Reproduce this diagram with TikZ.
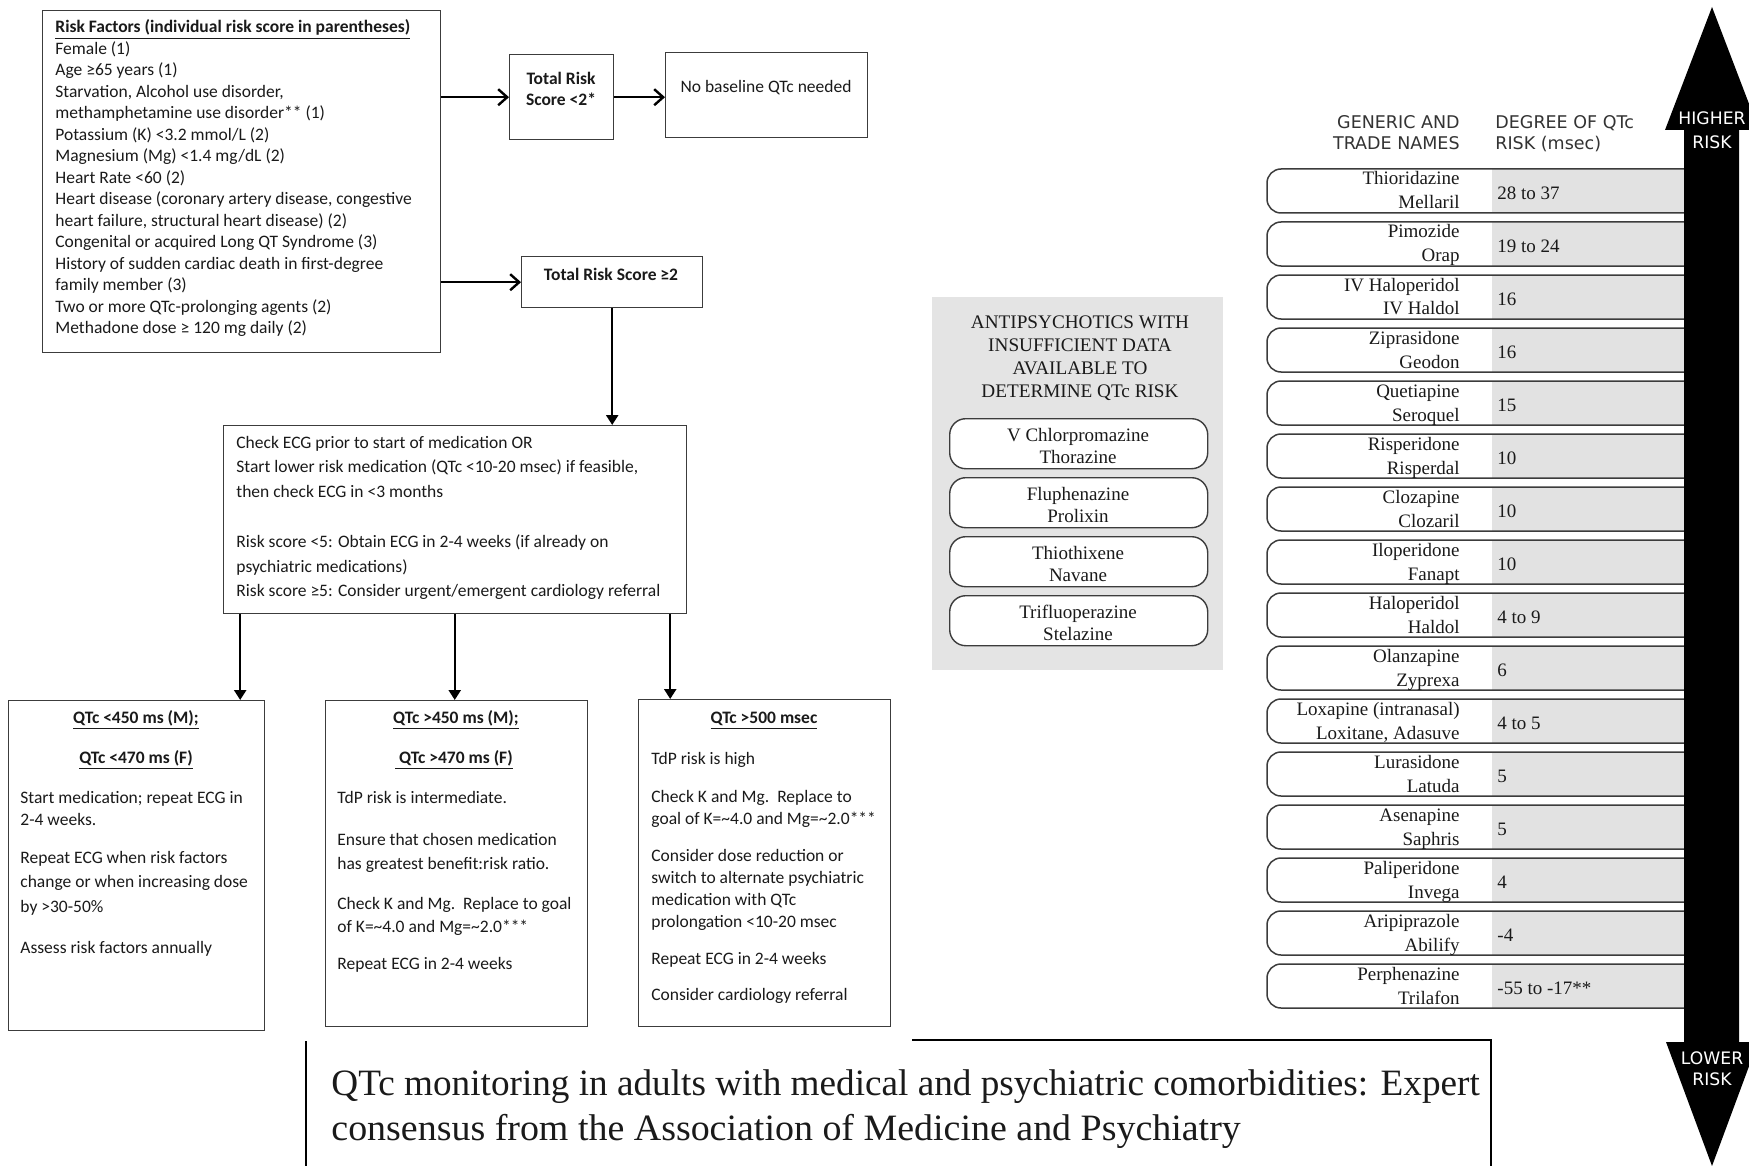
\documentclass[tikz,border=0pt]{standalone}
\usepackage{fontspec}
\setmainfont{Carlito}
\newfontfamily\serifF{Liberation Serif}
\newfontfamily\dvF{DejaVu Sans}
\usetikzlibrary{arrows.meta,calc}
\definecolor{bordc}{HTML}{3C3C3C}
\definecolor{txtc}{HTML}{1A1A1A}
\definecolor{panelc}{HTML}{E4E4E4}
\definecolor{rowc}{HTML}{E2E2E2}
\tikzset{
  flowbox/.style={draw=bordc, line width=0.7pt, inner sep=0pt, anchor=north west},
  ftxt/.style={inner sep=0pt, text=txtc},
  harrow/.style={line width=1.2pt, -{Straight Barb[length=4.5pt,width=8pt]}},
  varrow/.style={line width=1.2pt, -{Triangle[length=5pt,width=6pt]}},
  panel/.style={fill=panelc, inner sep=0pt, anchor=north west},
  apbox/.style={draw=bordc, fill=white, line width=0.7pt, rounded corners=8pt, inner sep=0pt, anchor=north west, minimum width=129pt, minimum height=25pt},
  sertxt/.style={inner sep=0pt, text=txtc, font=\serifF\fontsize{9.5pt}{11pt}\selectfont},
  rowline/.style={draw=bordc, line width=0.75pt, rounded corners=7pt},
  hdr/.style={inner sep=0pt, text=black!80, font=\dvF\fontsize{8.75pt}{10.5pt}\selectfont},
  risklbl/.style={inner sep=0pt, text=white, font=\dvF\fontsize{8.6pt}{10.5pt}\selectfont, anchor=base}
}
\begin{document}
\begin{tikzpicture}[x=0.5pt,y=-0.5pt]
\useasboundingbox (0,0) rectangle (1749,1166);
\clip (0,0) rectangle (1749,1166);
\fill[white] (0,0) rectangle (1749,1166);

% ---------- flowchart boxes ----------
\node[flowbox, minimum width=199pt, minimum height=171pt] (risk) at (42,10) {};
\node[flowbox, minimum width=52pt, minimum height=42.5pt] (lt) at (509,54) {};
\node[flowbox, minimum width=101pt, minimum height=42.5pt] (nb) at (665,52) {};
\node[flowbox, minimum width=90.5pt, minimum height=25.5pt] (ge) at (521,256) {};
\node[flowbox, minimum width=231.5pt, minimum height=94pt] (ecg) at (223,425) {};
\node[flowbox, minimum width=128pt, minimum height=165pt] (ba) at (8,700) {};
\node[flowbox, minimum width=131pt, minimum height=163pt] (bb) at (325,700) {};
\node[flowbox, minimum width=126pt, minimum height=163.5pt] (bc) at (638,699) {};

% ---------- flowchart texts ----------
\node[ftxt, anchor=base west, font=\fontsize{8.75pt}{10.75pt}\selectfont] (riskT) at (55,33) {\parbox[t]{230pt}{\raggedright
\underline{\textbf{Risk Factors (individual risk score in parentheses)}}\\
Female (1)\\
Age ≥65 years (1)\\
Starvation, Alcohol use disorder,\\
methamphetamine use disorder** (1)\\
Potassium (K) <3.2 mmol/L (2)\\
Magnesium (Mg) <1.4 mg/dL (2)\\
Heart Rate <60 (2)\\
Heart disease (coronary artery disease, congestive\\
heart failure, structural heart disease) (2)\\
Congenital or acquired Long QT Syndrome (3)\\
History of sudden cardiac death in first-degree\\
family member (3)\\
Two or more QTc-prolonging agents (2)\\
Methadone dose ≥ 120 mg daily (2)}};

\node[ftxt, anchor=base, font=\bfseries\fontsize{8.75pt}{10.5pt}\selectfont] (ltT) at (561,85) {\begin{tabular}[t]{@{}c@{}}Total Risk\\Score <2*\end{tabular}};
\node[ftxt, anchor=base, font=\fontsize{8.75pt}{10.5pt}\selectfont] (nbT) at (766,93) {No baseline QTc needed};
\node[ftxt, anchor=base, font=\bfseries\fontsize{8.75pt}{10.5pt}\selectfont] (geT) at (611,280) {Total Risk Score ≥2};

\node[ftxt, anchor=base west, font=\fontsize{8.75pt}{12.4pt}\selectfont] (ecgT) at (236,448) {\parbox[t]{240pt}{\raggedright
Check ECG prior to start of medication OR\\
Start lower risk medication (QTc <10-20 msec) if feasible,\\
then check ECG in <3 months\\[12.4pt]
Risk score <5: Obtain ECG in 2-4 weeks (if already on\\
psychiatric medications)\\
Risk score ≥5: Consider urgent/emergent cardiology referral}};

% box A
\node[ftxt, anchor=base, font=\bfseries\fontsize{8.75pt}{11pt}\selectfont] (baT1) at (136,723) {\underline{QTc <450 ms (M);}};
\node[ftxt, anchor=base, font=\bfseries\fontsize{8.75pt}{11pt}\selectfont] (baT2) at (136,763) {\underline{QTc <470 ms (F)}};
\node[ftxt, anchor=base west, font=\fontsize{8.75pt}{11pt}\selectfont] (baB) at (20,803) {\parbox[t]{140pt}{\raggedright
Start medication; repeat ECG in\\
2-4 weeks.\\[8pt]
Repeat ECG when risk factors\\[1pt]
change or when increasing dose\\[1.5pt]
by >30-50\%\\[9.5pt]
Assess risk factors annually}};

% box B
\node[ftxt, anchor=base, font=\bfseries\fontsize{8.75pt}{11pt}\selectfont] (bbT1) at (456,723) {\underline{QTc >450 ms (M);}};
\node[ftxt, anchor=base, font=\bfseries\fontsize{8.75pt}{11pt}\selectfont] (bbT2) at (454,763) {\underline{\ QTc >470 ms (F)}};
\node[ftxt, anchor=base west, font=\fontsize{8.75pt}{11pt}\selectfont] (bbB) at (337,803) {\parbox[t]{140pt}{\raggedright
TdP risk is intermediate.\\[10pt]
Ensure that chosen medication\\[1pt]
has greatest benefit:risk ratio.\\[9pt]
Check K and Mg.\ \ Replace to goal\\[0.5pt]
of K=\textasciitilde4.0 and Mg=\textasciitilde2.0***\\[7.5pt]
Repeat ECG in 2-4 weeks}};

% box C
\node[ftxt, anchor=base, font=\bfseries\fontsize{8.75pt}{11pt}\selectfont] (bcT1) at (764,723) {\underline{QTc >500 msec}};
\node[ftxt, anchor=base west, font=\fontsize{8.75pt}{11pt}\selectfont] (bcB) at (651,764) {\parbox[t]{140pt}{\raggedright
TdP risk is high\\[8pt]
Check K and Mg.\ \ Replace to\\
goal of K=\textasciitilde4.0 and Mg=\textasciitilde2.0***\\[7.5pt]
Consider dose reduction or\\
switch to alternate psychiatric\\
medication with QTc\\
prolongation <10-20 msec\\[7.5pt]
Repeat ECG in 2-4 weeks\\[7pt]
Consider cardiology referral}};

% ---------- flowchart connectors ----------
\draw[harrow] (risk.east |- lt.west) -- (lt.west);
\draw[harrow] (lt.east) -- (nb.west |- lt.east);
\draw[harrow] (risk.east |- ge.west) -- (ge.west);
\draw[varrow] (ge.south) -- (ge.south |- ecg.north);
\coordinate (e1) at ($(ecg.south west)!0.037!(ecg.south east)$);
\coordinate (e2) at ($(ecg.south west)!0.499!(ecg.south east)$);
\coordinate (e3) at ($(ecg.south west)!0.963!(ecg.south east)$);
\draw[varrow] (e1) -- (e1 |- ba.north);
\draw[varrow] (e2) -- (e2 |- bb.north);
\draw[varrow] (e3) -- (e3 |- bc.north);

% ---------- antipsychotics panel ----------
\node[panel, minimum width=145.5pt, minimum height=186.5pt] (panel) at (932,297) {};
\node[sertxt, anchor=base, font=\serifF\fontsize{9.6pt}{11.65pt}\selectfont] (panT) at (1080,328) {\begin{tabular}[t]{@{}c@{}}ANTIPSYCHOTICS WITH\\INSUFFICIENT DATA\\AVAILABLE TO\\DETERMINE QTc RISK\end{tabular}};
\foreach \a/\b [count=\k from 0] in {V Chlorpromazine/Thorazine, Fluphenazine/Prolixin, Thiothixene/Navane, Trifluoperazine/Stelazine}{
  \pgfmathsetmacro\T{418+59*\k}
  \node[apbox] (ap\k) at (949,\T) {};
  \node[sertxt, anchor=base] (apT\k) at (1078,\T+23) {\begin{tabular}[t]{@{}c@{}}\a\\\b\end{tabular}};
}

% ---------- risk table ----------
\node[hdr, anchor=base east] (hdrA) at (1460,129) {\begin{tabular}[t]{@{}r@{}}GENERIC AND\\TRADE NAMES\end{tabular}};
\node[hdr, anchor=base west] (hdrB) at (1495,129) {\begin{tabular}[t]{@{}l@{}}DEGREE OF QTc\\RISK (msec)\end{tabular}};
\foreach \nA/\nB/\val [count=\i from 0] in {Thioridazine/Mellaril/28 to 37, Pimozide/Orap/19 to 24, IV Haloperidol/IV Haldol/16, Ziprasidone/Geodon/16, Quetiapine/Seroquel/15, Risperidone/Risperdal/10, Clozapine/Clozaril/10, Iloperidone/Fanapt/10, Haloperidol/Haldol/4 to 9, Olanzapine/Zyprexa/6, Loxapine (intranasal)/{Loxitane, Adasuve}/4 to 5, Lurasidone/Latuda/5, Asenapine/Saphris/5, Paliperidone/Invega/4, Aripiprazole/Abilify/-4, Perphenazine/Trilafon/-55 to -17**}{
  \pgfmathsetmacro\T{169+53*\i}
  \pgfmathsetmacro\B{\T+44}
  \fill[rowc] (1492,\T) rectangle (1690,\B);
  \draw[rowline] (1690,\T) -- (1267,\T) -- (1267,\B) -- (1690,\B);
  \node[sertxt, anchor=base east, font=\serifF\fontsize{9.5pt}{12pt}\selectfont] (nm\i) at (1460,\T+16) {\begin{tabular}[t]{@{}r@{}}\nA\\\nB\end{tabular}};
  \node[sertxt, anchor=base west] (val\i) at (1497,\T+30) {\val};
}

% ---------- risk arrow ----------
\fill[black] (1712,7) -- (1759,130) -- (1739,130) -- (1739,1042) -- (1758,1042) -- (1712,1166) -- (1666,1042) -- (1684,1042) -- (1684,130) -- (1665,130) -- cycle;
\node[risklbl] (hiA) at (1712,125) {HIGHER};
\node[risklbl] (hiB) at (1712,149) {RISK};
\node[risklbl] (loA) at (1712,1064) {LOWER};
\node[risklbl] (loB) at (1712,1085) {RISK};

% ---------- citation title ----------
\draw[line width=1pt] (306,1166) -- (306,1041);
\draw[line width=1pt] (912,1040) -- (1491,1040) -- (1491,1166);
\node[ftxt, anchor=base west, font=\serifF\fontsize{18.6pt}{20pt}\selectfont] (tit1) at (331,1095) {QTc monitoring in adults with medical and psychiatric comorbidities: Expert};
\node[ftxt, anchor=base west, font=\serifF\fontsize{18.6pt}{20pt}\selectfont] (tit2) at (331,1140) {\scalebox{1.02}[1]{consensus from the Association of Medicine and Psychiatry}};
\end{tikzpicture}
\end{document}
